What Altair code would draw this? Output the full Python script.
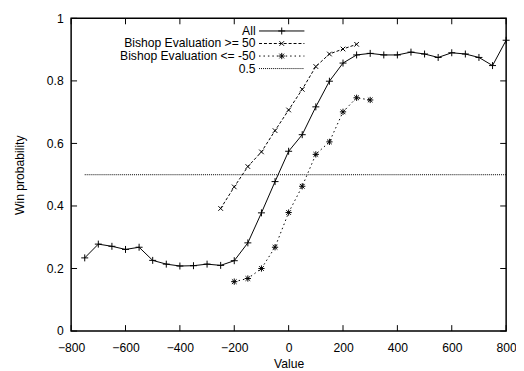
import altair as alt
import pandas as pd

# ---- data ----
x_all = list(range(-750, 801, 50))
y_all = [0.234, 0.278, 0.271, 0.261, 0.268, 0.226, 0.214, 0.208, 0.209, 0.214,
         0.210, 0.225, 0.282, 0.378, 0.478, 0.575, 0.628, 0.717, 0.799, 0.857,
         0.883, 0.888, 0.883, 0.883, 0.892, 0.886, 0.875, 0.890, 0.886, 0.875,
         0.849, 0.930]
x_hi = list(range(-250, 251, 50))
y_hi = [0.392, 0.461, 0.526, 0.573, 0.641, 0.707, 0.773, 0.846, 0.886, 0.902, 0.917]
x_lo = list(range(-200, 301, 50))
y_lo = [0.158, 0.168, 0.200, 0.268, 0.379, 0.463, 0.565, 0.605, 0.701, 0.746, 0.739]
ref_x = [-750, 800]
ref_y = [0.5, 0.5]
legend_labels = ["All", "Bishop Evaluation >= 50", "Bishop Evaluation <= -50", "0.5"]
x_ticks = list(range(-800, 801, 200))
y_ticks = [0, 0.2, 0.4, 0.6, 0.8, 1.0]

W, H = 441, 317
FONT = "Liberation Sans"
FS = 12.3

xs = alt.Scale(domain=[-800, 800], nice=False, zero=False)
ys = alt.Scale(domain=[0, 1], nice=False, zero=False)

common = dict(grid=False, domain=False, ticks=False, labelFlush=False, labelOverlap=False,
              labelFont=FONT, labelFontSize=FS, labelColor="black",
              titleFont=FONT, titleFontSize=FS, titleFontWeight="normal", titleColor="black")
x_axis = alt.Axis(title="Value", values=x_ticks, labelPadding=11, titlePadding=4, **common)
y_axis = alt.Axis(title="Win probability", values=y_ticks, labelPadding=8, titlePadding=20,
                  format="~g", **common)

PLUS = "M-1,0L1,0M0,-1L0,1"
CROSS = "M-1,-1L1,1M1,-1L-1,1"
STAR = PLUS + "M-0.75,-0.75L0.75,0.75M0.75,-0.75L-0.75,0.75"

styles = [
    dict(dash=None, shape=PLUS, size=50),
    dict(dash=[3, 2], shape=CROSS, size=22),
    dict(dash=[1.5, 3], shape=STAR, size=40),
    dict(dash=[1, 1], shape=None, size=0),
]


def enc(df):
    return alt.Chart(df).encode(
        x=alt.X("x:Q", scale=xs, axis=x_axis),
        y=alt.Y("y:Q", scale=ys, axis=y_axis),
    )


layers = []
series_data = [(x_all, y_all), (x_hi, y_hi), (x_lo, y_lo), (ref_x, ref_y)]
for (xv, yv), st in zip(series_data, styles):
    df = pd.DataFrame({"x": xv, "y": yv})
    base = enc(df)
    kw = dict(color="black", strokeWidth=1)
    if st["dash"]:
        kw["strokeDash"] = st["dash"]
    layers.append(base.mark_line(**kw))
    if st["shape"]:
        layers.append(base.mark_point(shape=st["shape"], size=st["size"], filled=False,
                                      color="black", strokeWidth=1, opacity=1))

# inward ticks on all four sides
xt = pd.DataFrame({"x": x_ticks})
yt = pd.DataFrame({"y": y_ticks})
TL = 6
layers.append(alt.Chart(xt).mark_rule(color="black", strokeWidth=1).encode(
    x=alt.X("x:Q", scale=xs, axis=x_axis), y=alt.value(H), y2=alt.value(H - TL)))
layers.append(alt.Chart(xt).mark_rule(color="black", strokeWidth=1).encode(
    x=alt.X("x:Q", scale=xs, axis=x_axis), y=alt.value(0), y2=alt.value(TL)))
layers.append(alt.Chart(yt).mark_rule(color="black", strokeWidth=1).encode(
    y=alt.Y("y:Q", scale=ys, axis=y_axis), x=alt.value(0), x2=alt.value(TL)))
layers.append(alt.Chart(yt).mark_rule(color="black", strokeWidth=1).encode(
    y=alt.Y("y:Q", scale=ys, axis=y_axis), x=alt.value(W), x2=alt.value(W - TL)))

# legend (top right, gnuplot style)
one = pd.DataFrame({"d": [0]})
TX, L1, L2, PX = 187, 190.5, 236.5, 213.5
for i, (lab, st) in enumerate(zip(legend_labels, styles)):
    ry = 12.8 + 12.7 * i
    layers.append(alt.Chart(one).mark_text(align="right", baseline="middle", font=FONT,
                                           fontSize=FS, color="black").encode(
        x=alt.value(TX), y=alt.value(ry), text=alt.value(lab)))
    kw = dict(color="black", strokeWidth=1)
    if st["dash"]:
        kw["strokeDash"] = st["dash"]
    layers.append(alt.Chart(one).mark_rule(**kw).encode(
        x=alt.value(L1), x2=alt.value(L2), y=alt.value(ry)))
    if st["shape"]:
        layers.append(alt.Chart(one).mark_point(shape=st["shape"], size=st["size"], filled=False,
                                                color="black", strokeWidth=1, opacity=1).encode(
            x=alt.value(PX), y=alt.value(ry)))

chart = alt.layer(*layers).properties(
    width=W, height=H,
    background="white",
    autosize=alt.AutoSizeParams(type="none"),
    padding={"left": 64, "top": 8, "right": 10, "bottom": 38},
).configure_view(
    stroke="black", strokeWidth=1.5
)

chart.save("out.html", embed_options={"renderer": "svg", "actions": False})
